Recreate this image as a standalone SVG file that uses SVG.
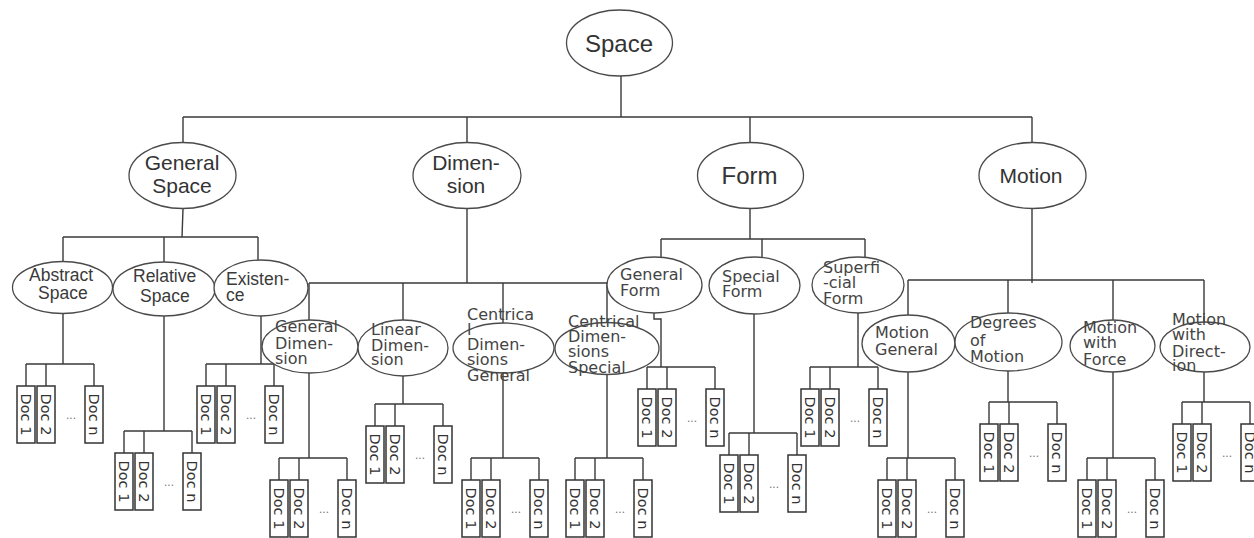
<svg xmlns="http://www.w3.org/2000/svg" width="1254" height="538" viewBox="0 0 1254 538">
  <style>
    .bg { fill: #ffffff; }
    .wire { fill: none; stroke: #3a3a3a; stroke-width: 1.4; }
    .oval { fill: #ffffff; stroke: #4a4a4a; stroke-width: 1.3; }
    .box { fill: #ffffff; stroke: #333333; stroke-width: 1.5; }
    .t1 { font-family: "Liberation Sans", Arial, sans-serif; fill: #333333; text-anchor: middle; }
    .t2 { font-family: "Liberation Sans", Arial, sans-serif; font-size: 17.5px; fill: #3a3a3a; }
    .t3 { font-family: "DejaVu Sans", "Open Sans", sans-serif; font-size: 16px; fill: #444444; }
    .doc { font-family: "DejaVu Sans", "Open Sans", sans-serif; font-size: 14.5px; fill: #333333; text-anchor: middle; dominant-baseline: central; }
    .dots { font-family: "Liberation Sans", Arial, sans-serif; font-size: 12px; fill: #777777; text-anchor: middle; }
  </style>
  <defs>
    <!-- one set of three documents: boxes "Doc 1", "Doc 2", "Doc n" with an ellipsis -->
    <g id="docset">
      <rect class="box" x="-9" y="22" width="18" height="57"/>
      <rect class="box" x="11" y="22" width="18" height="57"/>
      <rect class="box" x="59" y="22" width="18" height="57"/>
      <text class="doc" transform="translate(0,50.5) rotate(90)">Doc 1</text>
      <text class="doc" transform="translate(20,50.5) rotate(90)">Doc 2</text>
      <text class="doc" transform="translate(68,50.5) rotate(90)">Doc n</text>
      <text class="dots" x="45" y="55">...</text>
    </g>
  </defs>
  <rect class="bg" x="0" y="0" width="1254" height="538"/>

  <!-- connectors -->
  <g id="connectors" class="wire">
    <!-- root to level 1 -->
    <path d="M621 76 V117 M183 117 H1032 M183 117 V142 M467 117 V142 M750 117 V143 M1032 117 V142"/>
    <!-- General Space children -->
    <path d="M183 209 L182 237 M63 237 H258 M63 237 V262 M164 237 V262 M258 237 V260"/>
    <!-- Dimension children -->
    <path d="M467 209 V283 M309 283 H607 M309 283 V320 M403 283 V320 M503 283 V323 M607 283 V322"/>
    <!-- Form children -->
    <path d="M750 208 V239 M661 239 H865 M661 239 V257 M762 239 V258 M865 239 V257"/>
    <!-- Motion children -->
    <path d="M1032 208 V283 M908 280 H1204 M908 280 V315 M1008 280 V313 M1113 280 V320 M1204 280 V322"/>
    <!-- leaf nodes to their document sets -->
    <path d="M63 313 V364 M26 364 H94 M26 364 V386 M46 364 V386 M94 364 V386"/>
    <path d="M164 316 V431 M124 431 H192 M124 431 V453 M144 431 V453 M192 431 V453"/>
    <path d="M261 316 V364 M206 364 H274 M206 364 V386 M226 364 V386 M274 364 V386"/>
    <path d="M309 373 V458 M279 458 H347 M279 458 V480 M299 458 V480 M347 458 V480"/>
    <path d="M403 376 V404 M375 404 H443 M375 404 V426 M395 404 V426 M443 404 V426"/>
    <path d="M503 373 V458 M471 458 H539 M471 458 V480 M491 458 V480 M539 458 V480"/>
    <path d="M607 374 V458 M575 458 H643 M575 458 V480 M595 458 V480 M643 458 V480"/>
    <path d="M654 313 V319 H661 V367 M647 367 H715 M647 367 V389 M667 367 V389 M715 367 V389"/>
    <path d="M754 314 V433 M729 433 H797 M729 433 V455 M749 433 V455 M797 433 V455"/>
    <path d="M858 313 V367 M810 367 H878 M810 367 V389 M830 367 V389 M878 367 V389"/>
    <path d="M908 372 V458 M887 458 H955 M887 458 V480 M907 458 V480 M955 458 V480"/>
    <path d="M1008 371 V402 M989 402 H1057 M989 402 V424 M1009 402 V424 M1057 402 V424"/>
    <path d="M1113 372 V458 M1087 458 H1155 M1087 458 V480 M1107 458 V480 M1155 458 V480"/>
    <path d="M1204 372 V402 M1182 402 H1250 M1182 402 V424 M1202 402 V424 M1250 402 V424"/>
  </g>

  <!-- root -->
  <g id="space">
    <ellipse class="oval" cx="619.5" cy="43" rx="53" ry="33"/>
    <text class="t1" x="619" y="51.5" font-size="24">Space</text>
  </g>

  <!-- level 1 -->
  <g id="general-space">
    <ellipse class="oval" cx="182.5" cy="175.5" rx="53.5" ry="33"/>
    <text class="t1" x="182" y="170" font-size="21">General</text>
    <text class="t1" x="182" y="193" font-size="21">Space</text>
  </g>
  <g id="dimension">
    <ellipse class="oval" cx="467" cy="175.5" rx="54" ry="33"/>
    <text class="t1" x="466" y="170" font-size="21">Dimen-</text>
    <text class="t1" x="466" y="193" font-size="21">sion</text>
  </g>
  <g id="form">
    <ellipse class="oval" cx="750.5" cy="175.5" rx="53" ry="33"/>
    <text class="t1" x="749.5" y="183.5" font-size="24">Form</text>
  </g>
  <g id="motion">
    <ellipse class="oval" cx="1032.5" cy="175.5" rx="53.5" ry="33"/>
    <text class="t1" x="1031" y="182.5" font-size="21">Motion</text>
  </g>

  <!-- level 2 under General Space -->
  <g id="abstract-space">
    <ellipse class="oval" cx="62.5" cy="287.5" rx="50" ry="26"/>
    <text class="t2" x="29" y="281">Abstract</text>
    <text class="t2" x="38" y="299">Space</text>
  </g>
  <g id="relative-space">
    <ellipse class="oval" cx="164" cy="289" rx="51" ry="27"/>
    <text class="t2" x="133" y="282">Relative</text>
    <text class="t2" x="140" y="302">Space</text>
  </g>
  <g id="existence">
    <ellipse class="oval" cx="261" cy="288" rx="47" ry="28"/>
    <text class="t2" x="226" y="285">Existen-</text>
    <text class="t2" x="226" y="301">ce</text>
  </g>

  <!-- level 2 under Dimension -->
  <g id="general-dimension">
    <ellipse class="oval" cx="310" cy="346.5" rx="48" ry="26.5"/>
    <text class="t3" x="275" y="332">General</text>
    <text class="t3" x="275" y="349">Dimen-</text>
    <text class="t3" x="275" y="364">sion</text>
  </g>
  <g id="linear-dimension">
    <ellipse class="oval" cx="403" cy="348" rx="45" ry="28"/>
    <text class="t3" x="371" y="335">Linear</text>
    <text class="t3" x="371" y="351">Dimen-</text>
    <text class="t3" x="371" y="365">sion</text>
  </g>
  <g id="centrical-dimensions-general">
    <ellipse class="oval" cx="503.5" cy="348" rx="50.5" ry="25"/>
    <text class="t3" x="467" y="320">Centrica</text>
    <text class="t3" x="467" y="335">l</text>
    <text class="t3" x="467" y="350">Dimen-</text>
    <text class="t3" x="467" y="365">sions</text>
    <text class="t3" x="467" y="381">General</text>
  </g>
  <g id="centrical-dimensions-special">
    <ellipse class="oval" cx="607" cy="348.5" rx="52" ry="26"/>
    <text class="t3" x="568" y="327">Centrical</text>
    <text class="t3" x="568" y="342">Dimen-</text>
    <text class="t3" x="568" y="357">sions</text>
    <text class="t3" x="568" y="373">Special</text>
  </g>

  <!-- level 2 under Form -->
  <g id="general-form">
    <ellipse class="oval" cx="654.5" cy="285" rx="47.5" ry="28"/>
    <text class="t3" x="620" y="280">General</text>
    <text class="t3" x="620" y="296">Form</text>
  </g>
  <g id="special-form">
    <ellipse class="oval" cx="754.5" cy="285.5" rx="45.5" ry="28.5"/>
    <text class="t3" x="722" y="282">Special</text>
    <text class="t3" x="722" y="297">Form</text>
  </g>
  <g id="superficial-form">
    <ellipse class="oval" cx="858" cy="285" rx="46" ry="28"/>
    <text class="t3" x="823" y="273">Superfi</text>
    <text class="t3" x="823" y="288">-cial</text>
    <text class="t3" x="823" y="304">Form</text>
  </g>

  <!-- level 2 under Motion -->
  <g id="motion-general">
    <ellipse class="oval" cx="908.5" cy="343.5" rx="46.5" ry="28.5"/>
    <text class="t3" x="875" y="338">Motion</text>
    <text class="t3" x="875" y="355">General</text>
  </g>
  <g id="degrees-of-motion">
    <ellipse class="oval" cx="1008.5" cy="342" rx="53.5" ry="29"/>
    <text class="t3" x="970" y="328">Degrees</text>
    <text class="t3" x="970" y="346">of</text>
    <text class="t3" x="970" y="362">Motion</text>
  </g>
  <g id="motion-with-force">
    <ellipse class="oval" cx="1112.5" cy="346" rx="42.5" ry="26"/>
    <text class="t3" x="1083" y="333">Motion</text>
    <text class="t3" x="1083" y="348">with</text>
    <text class="t3" x="1083" y="365">Force</text>
  </g>
  <g id="motion-with-direction">
    <ellipse class="oval" cx="1205" cy="347" rx="45" ry="25"/>
    <text class="t3" x="1172" y="325">Motion</text>
    <text class="t3" x="1172" y="340">with</text>
    <text class="t3" x="1172" y="357">Direct-</text>
    <text class="t3" x="1172" y="371">ion</text>
  </g>

  <!-- document sets -->
  <g id="docs-abstract-space"><use href="#docset" x="26" y="364"/></g>
  <g id="docs-relative-space"><use href="#docset" x="124" y="431"/></g>
  <g id="docs-existence"><use href="#docset" x="206" y="364"/></g>
  <g id="docs-general-dimension"><use href="#docset" x="279" y="458"/></g>
  <g id="docs-linear-dimension"><use href="#docset" x="375" y="404"/></g>
  <g id="docs-centrical-general"><use href="#docset" x="471" y="458"/></g>
  <g id="docs-centrical-special"><use href="#docset" x="575" y="458"/></g>
  <g id="docs-general-form"><use href="#docset" x="647" y="367"/></g>
  <g id="docs-special-form"><use href="#docset" x="729" y="433"/></g>
  <g id="docs-superficial-form"><use href="#docset" x="810" y="367"/></g>
  <g id="docs-motion-general"><use href="#docset" x="887" y="458"/></g>
  <g id="docs-degrees-of-motion"><use href="#docset" x="989" y="402"/></g>
  <g id="docs-motion-with-force"><use href="#docset" x="1087" y="458"/></g>
  <g id="docs-motion-with-direction"><use href="#docset" x="1182" y="402"/></g>
</svg>
